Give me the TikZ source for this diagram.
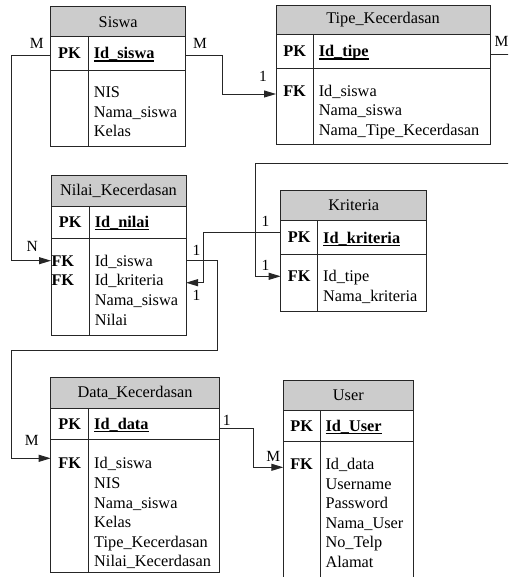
\documentclass[tikz,border=0pt]{standalone}
\usepackage{fontspec}
\setmainfont{Liberation Serif}
\usetikzlibrary{arrows.meta}
\definecolor{hdr}{HTML}{CCCCCC}
\definecolor{lc}{HTML}{262626}
\newlength\ulw
\newcommand\ulbf[1]{\settowidth\ulw{\textbf{#1}}\textbf{#1}\hspace{-\ulw}\rule[-2.6pt]{\ulw}{1.1pt}}
\tikzset{
 every node/.style={font=\fontsize{16.3}{19.6}\selectfont, inner sep=0pt, outer sep=0pt},
 hdrbox/.style={draw=lc, fill=hdr, line width=0.9pt, anchor=north west},
 rowbox/.style={draw=lc, line width=0.9pt, anchor=north west},
 conn/.style={draw=lc, line width=0.9pt},
 arr/.style={conn, -{Triangle[length=12pt,width=7pt]}},
 lbl/.style={font=\fontsize{15.5}{18}\selectfont},
}
% #1 name #2 L #3 T #4 R #5 D #6 H #7 P #8 B #9 title
\newcommand\ertable[9]{%
 \node[hdrbox, minimum width={(#4-#2)*1pt}, minimum height={(#6-#3)*1pt}] (#1) at (#2,#3) {#9};
 \node[rowbox, minimum width={(#4-#2)*1pt}, minimum height={(#7-#6)*1pt}] (#1-pk) at (#2,#6) {};
 \node[rowbox, minimum width={(#4-#2)*1pt}, minimum height={(#8-#7)*1pt}] (#1-body) at (#2,#7) {};
 \draw[conn] (#5,#6) -- (#5,#8);
 \node (#1-pkl) at ({(#2+#5)/2},{(#6+#7)/2}) {\textbf{PK}};
}
% #1 name #2 x #3 first baseline #4 list
\newcommand\erlines[4]{\foreach \itm [count=\i from 0] in {#4} {\node[anchor=base west] (#1-\i) at (#2,{#3+19.6*\i}) {\itm};}}
\begin{document}
\begin{tikzpicture}[x=1pt,y=-1pt]
\useasboundingbox (0,0) rectangle (508,577);
\clip (0,0) rectangle (508,577);
% Siswa
\ertable{siswa}{50.7}{6.7}{185.7}{88.3}{36.7}{70.3}{146.7}{Siswa}
\node[anchor=base west] (siswa-id) at (93.8,59) {\ulbf{Id\_siswa}};
\erlines{siswa}{93.8}{97.8}{NIS,Nama\_siswa,Kelas}
% Tipe_Kecerdasan
\ertable{tipe}{276}{5.3}{490}{313.3}{34.3}{68.7}{144.3}{Tipe\_Kecerdasan}
\node[anchor=base west] (tipe-id) at (318.8,57) {\ulbf{Id\_tipe}};
\node[anchor=base] (tipe-fk) at (294.6,96.2) {\textbf{FK}};
\erlines{tipe}{318.8}{96.2}{Id\_siswa,Nama\_siswa,Nama\_Tipe\_Kecerdasan}
% Nilai_Kecerdasan
\ertable{nilai}{51}{175}{186}{89.3}{206}{238.7}{335}{Nilai\_Kecerdasan}
\node[anchor=base west] (nilai-id) at (94.8,227.8) {\ulbf{Id\_nilai}};
\node[anchor=base west] (nilai-fk1) at (51.5,266.2) {\textbf{FK}};
\node[anchor=base west] (nilai-fk2) at (51.5,285.8) {\textbf{FK}};
\erlines{nilai}{94.8}{266.2}{Id\_siswa,Id\_kriteria,Nama\_siswa,Nilai}
% Kriteria
\ertable{kriteria}{280.7}{190}{426.7}{317.7}{220.7}{254.3}{311}{Kriteria}
\node[anchor=base west] (kriteria-id) at (323.2,243) {\ulbf{Id\_kriteria}};
\node[anchor=base] (kriteria-fk) at (299.2,281.8) {\textbf{FK}};
\erlines{kriteria}{323.2}{281.8}{Id\_tipe,Nama\_kriteria}
% Data_Kecerdasan
\ertable{data}{50.7}{377.7}{219.3}{88.7}{408.3}{439.3}{572.7}{Data\_Kecerdasan}
\node[anchor=base west] (data-id) at (94.2,429.3) {\ulbf{Id\_data}};
\node[anchor=base] (data-fk) at (69.7,468.8) {\textbf{FK}};
\erlines{data}{94.2}{468.8}{Id\_siswa,NIS,Nama\_siswa,Kelas,Tipe\_Kecerdasan,Nilai\_Kecerdasan}
% User
\ertable{user}{283.3}{380}{413.3}{320}{410}{441.7}{600}{User}
\node[anchor=base west] (user-id) at (325.5,431.3) {\ulbf{Id\_User}};
\node[anchor=base] (user-fk) at (301.6,469.5) {\textbf{FK}};
\erlines{user}{325.5}{469.5}{Id\_data,Username,Password,Nama\_User,No\_Telp,Alamat}
% connectors
\draw[arr] ([yshift=-1.5pt]siswa-pk.west) -- ++(-39,0) |- ([yshift=-22pt]nilai-body.north west);
\draw[arr] ([yshift=-1.5pt]siswa-pk.east) -- ++(37,0) |- ([yshift=-25.3pt]tipe-body.north west);
\draw[arr] ([yshift=-2.5pt]tipe-pk.east) -- ++(30,0) |- (255,163) |- ([yshift=-22pt]kriteria-body.north west);
\draw[arr] ([yshift=5.5pt]kriteria-pk.west) -- ++(-77.4,0) |- ([yshift=-44pt]nilai-body.north east);
\draw[arr] ([yshift=-22pt]nilai-body.north east) -- ++(31.3,0) |- (11.7,350) |- ([yshift=-19pt]data-body.north west);
\draw[arr] ([yshift=-4.5pt]data-pk.east) -- ++(34,0) |- ([yshift=-25.6pt]user-body.north west);
% labels
\node[lbl] (l1) at (36.7,43.3) {M};
\node[lbl] (l2) at (200,43.3) {M};
\node[lbl] (l3) at (263,76.7) {1};
\node[lbl] (l4) at (501.5,41.7) {M};
\node[lbl] (l5) at (32.3,246) {N};
\node[lbl] (l6) at (196.5,250) {1};
\node[lbl] (l7) at (196.5,295) {1};
\node[lbl] (l8) at (265.5,221.7) {1};
\node[lbl] (l9) at (265.5,265) {1};
\node[lbl] (l10) at (31.7,440) {M};
\node[lbl] (l11) at (226.7,420) {1};
\node[lbl] (l12) at (273.3,456.7) {M};
\end{tikzpicture}
\end{document}
